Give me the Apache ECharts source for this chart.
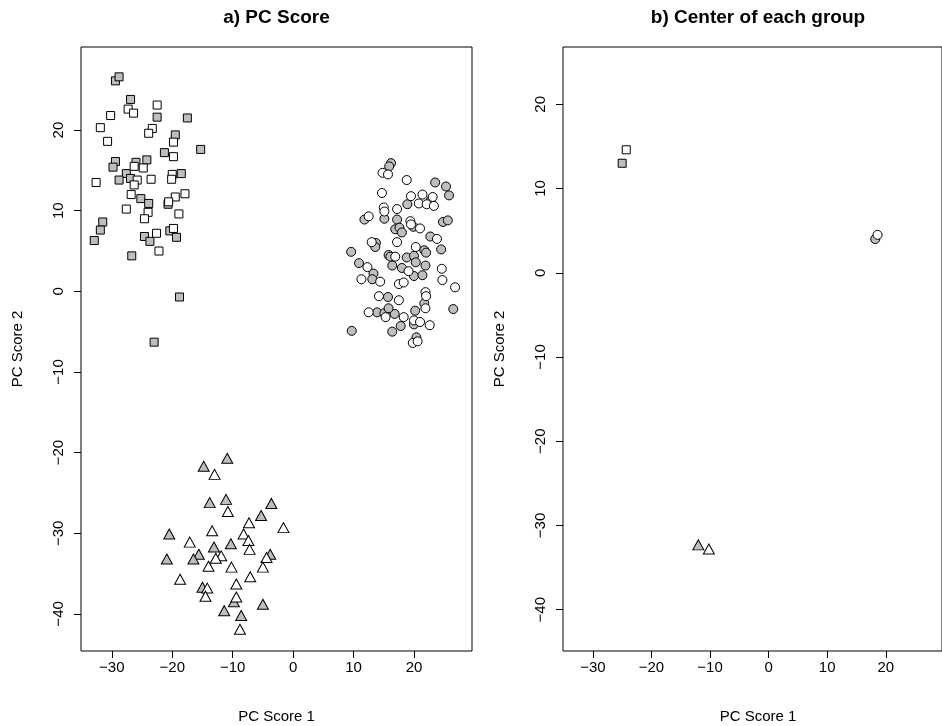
<!DOCTYPE html>
<html>
<head>
<meta charset="utf-8">
<script src="https://cdn.jsdelivr.net/npm/echarts@6/dist/echarts.min.js"></script>
<style>
html,body{margin:0;padding:0;background:#fff;}
#c{width:942px;height:726px;}
</style>
</head>
<body>
<div id="c"></div>
<script>
// ---- data ----
var squareWhite = [[-27.3,22.6],[-26.4,22.1],[-22.5,23.1],[-30.2,21.8],[-31.9,20.3],[-23.3,20.2],[-23.9,19.6],[-30.7,18.6],[-19.8,18.5],[-19.8,16.7],[-24.8,15.3],[-26.3,15.5],[-25.8,13.8],[-26.3,13.2],[-23.5,13.9],[-20.0,14.5],[-20.1,13.9],[-32.6,13.5],[-26.8,12.0],[-19.5,11.7],[-17.9,12.1],[-20.6,11.1],[-27.6,10.2],[-24.0,9.8],[-24.6,9.0],[-18.9,9.6],[-22.6,7.2],[-19.8,7.8],[-22.2,5.0]];
var squareGrey = [[-29.4,26.1],[-28.8,26.6],[-26.9,23.8],[-22.5,21.6],[-17.5,21.5],[-19.5,19.4],[-15.3,17.6],[-21.3,17.2],[-29.4,16.1],[-29.8,15.4],[-26.0,16.0],[-24.2,16.3],[-27.6,14.6],[-28.8,13.8],[-26.9,14.0],[-18.5,14.6],[-25.2,11.5],[-23.9,10.9],[-20.7,10.8],[-31.5,8.6],[-31.9,7.6],[-32.9,6.3],[-24.6,6.8],[-23.7,6.2],[-20.4,7.5],[-19.3,6.7],[-26.7,4.4],[-18.8,-0.7],[-23.0,-6.3]];
var circleGrey = [[16.2,15.9],[15.9,15.5],[23.5,13.5],[25.3,13.0],[25.8,11.9],[22.8,11.3],[18.9,10.8],[11.8,8.9],[15.1,9.0],[17.2,8.9],[16.9,7.7],[17.6,7.9],[19.9,8.0],[18.0,7.3],[24.8,8.6],[25.6,8.8],[22.7,6.8],[13.7,6.0],[13.6,5.5],[9.6,4.9],[21.7,5.1],[24.5,5.2],[15.8,4.5],[16.1,4.3],[18.8,4.2],[20.0,4.4],[22.0,4.8],[20.3,3.6],[16.4,3.2],[18.0,2.9],[21.9,3.2],[20.0,1.9],[21.4,2.0],[10.9,3.5],[13.3,2.2],[13.1,1.5],[15.7,-0.7],[21.7,-1.5],[20.2,-2.4],[13.9,-2.6],[15.1,-2.7],[16.8,-2.8],[15.8,-2.1],[26.5,-2.2],[20.0,-4.1],[17.8,-4.3],[16.4,-5.0],[9.7,-4.9],[20.4,-5.7]];
var circleWhite = [[14.8,14.7],[15.7,14.5],[18.8,13.8],[14.7,12.2],[19.5,11.8],[21.4,12.0],[23.1,11.7],[20.8,10.9],[22.1,10.8],[23.3,10.6],[15.0,10.4],[15.1,9.9],[17.2,10.2],[12.5,9.3],[19.4,8.7],[19.5,8.3],[21.0,7.8],[17.2,6.1],[23.8,6.5],[13.0,6.1],[20.3,5.5],[16.9,4.3],[19.1,2.5],[24.6,2.8],[24.7,1.4],[26.8,0.5],[12.3,3.0],[14.4,1.2],[11.3,1.5],[17.5,0.9],[18.3,1.1],[14.2,-0.6],[17.5,-1.1],[21.9,-0.1],[22.0,-0.6],[21.9,-2.1],[12.5,-2.6],[15.3,-3.2],[18.3,-3.2],[20.0,-3.6],[21.0,-3.8],[22.6,-4.2],[19.8,-6.4],[20.6,-6.2]];
var triangleGrey = [[-10.9,-20.7],[-14.8,-21.7],[-13.8,-26.2],[-11.1,-25.8],[-3.6,-26.3],[-5.3,-27.8],[-20.5,-30.1],[-13.1,-31.7],[-10.3,-31.3],[-15.6,-32.6],[-16.5,-33.2],[-20.9,-33.2],[-3.8,-32.6],[-15.0,-36.7],[-9.8,-38.5],[-5.0,-38.8],[-11.4,-39.6],[-8.6,-40.2]];
var triangleWhite = [[-13.0,-22.7],[-10.8,-27.3],[-7.3,-28.7],[-1.6,-29.3],[-13.4,-29.7],[-8.2,-30.1],[-17.1,-31.1],[-7.4,-30.9],[-7.2,-32.0],[-11.9,-32.8],[-12.8,-33.1],[-4.4,-33.0],[-14.0,-34.1],[-10.2,-34.2],[-5.0,-34.2],[-7.1,-35.4],[-18.7,-35.7],[-9.4,-36.3],[-14.2,-36.8],[-14.5,-37.8],[-9.4,-37.9],[-8.8,-41.9]];
var centerSquareGrey = [[-25.0,13.0]];
var centerSquareWhite = [[-24.3,14.6]];
var centerCircleGrey = [[18.2,4.0]];
var centerCircleWhite = [[18.6,4.5]];
var centerTriangleGrey = [[-12.0,-32.3]];
var centerTriangleWhite = [[-10.2,-32.8]];
var xTicks = [-30,-20,-10,0,10,20];
var yTicks = [-40,-30,-20,-10,0,10,20];
var titles = ['a) PC Score','b) Center of each group'];
var xName = 'PC Score 1';
var yName = 'PC Score 2';

// ---- chart ----
var FONT = '"Liberation Sans", Arial, Helvetica, sans-serif';
var GREY = '#bebebe';
var SQ = 8, CI = 9, TR = [11,10];
function fmt(v){ return (v < 0 ? '\u2212' + Math.abs(v) : String(v)); }
function xAx(i){
  return {gridIndex:i, type:'value', min:-35.1, max:29.6,
    splitLine:{show:false}, axisLine:{show:false, onZero:false},
    axisTick:{show:true, length:7, customValues:xTicks, lineStyle:{color:'#000', width:1}},
    axisLabel:{customValues:xTicks, formatter:fmt, color:'#000', fontFamily:FONT, fontSize:15, margin:9}};
}
function yAx(i, mn, mx){
  return {gridIndex:i, type:'value', min:mn, max:mx,
    splitLine:{show:false}, axisLine:{show:false, onZero:false},
    axisTick:{show:true, length:7, customValues:yTicks, lineStyle:{color:'#000', width:1}},
    axisLabel:{customValues:yTicks, formatter:fmt, rotate:90, color:'#000', fontFamily:FONT, fontSize:15, margin:15}};
}
function sc(data, xi, sym, size, fill){
  return {type:'scatter', xAxisIndex:xi, yAxisIndex:xi, data:data, symbol:sym, symbolSize:size,
    itemStyle:{color:fill, borderColor:'#000', borderWidth:1, opacity:1},
    emphasis:{disabled:true}, silent:true, animation:false};
}
var chart = echarts.init(document.getElementById('c'), null, {renderer:'canvas'});
chart.setOption({
  backgroundColor:'#fff',
  animation:false,
  grid:[
    {left:81, top:47, width:391, height:604, show:true, borderColor:'#000', borderWidth:1, backgroundColor:'transparent'},
    {left:563, top:47, width:391, height:604, show:true, borderColor:'#000', borderWidth:1, backgroundColor:'transparent'}
  ],
  xAxis:[xAx(0), xAx(1)],
  yAxis:[yAx(0,-44.6,30.3), yAx(1,-44.9,26.8)],
  series:[
    sc(squareGrey,0,'rect',SQ,GREY), sc(squareWhite,0,'rect',SQ,'#fff'),
    sc(circleGrey,0,'circle',CI,GREY), sc(circleWhite,0,'circle',CI,'#fff'),
    sc(triangleGrey,0,'triangle',TR,GREY), sc(triangleWhite,0,'triangle',TR,'#fff'),
    sc(centerSquareGrey,1,'rect',SQ,GREY), sc(centerSquareWhite,1,'rect',SQ,'#fff'),
    sc(centerCircleGrey,1,'circle',CI,GREY), sc(centerCircleWhite,1,'circle',CI,'#fff'),
    sc(centerTriangleGrey,1,'triangle',TR,GREY), sc(centerTriangleWhite,1,'triangle',TR,'#fff')
  ],
  graphic:[
    {type:'text', x:276.5, y:18, style:{text:titles[0], font:'bold 19px '+FONT, fill:'#000', textAlign:'center', textVerticalAlign:'middle'}},
    {type:'text', x:758, y:18, style:{text:titles[1], font:'bold 19px '+FONT, fill:'#000', textAlign:'center', textVerticalAlign:'middle'}},
    {type:'text', x:276.5, y:717, style:{text:xName, font:'15px '+FONT, fill:'#000', textAlign:'center', textVerticalAlign:'middle'}},
    {type:'text', x:758, y:717, style:{text:xName, font:'15px '+FONT, fill:'#000', textAlign:'center', textVerticalAlign:'middle'}},
    {type:'text', x:18, y:349, rotation:Math.PI/2, style:{text:yName, font:'15px '+FONT, fill:'#000', textAlign:'center', textVerticalAlign:'middle'}},
    {type:'text', x:500, y:349, rotation:Math.PI/2, style:{text:yName, font:'15px '+FONT, fill:'#000', textAlign:'center', textVerticalAlign:'middle'}}
  ]
});
</script>
</body>
</html>
